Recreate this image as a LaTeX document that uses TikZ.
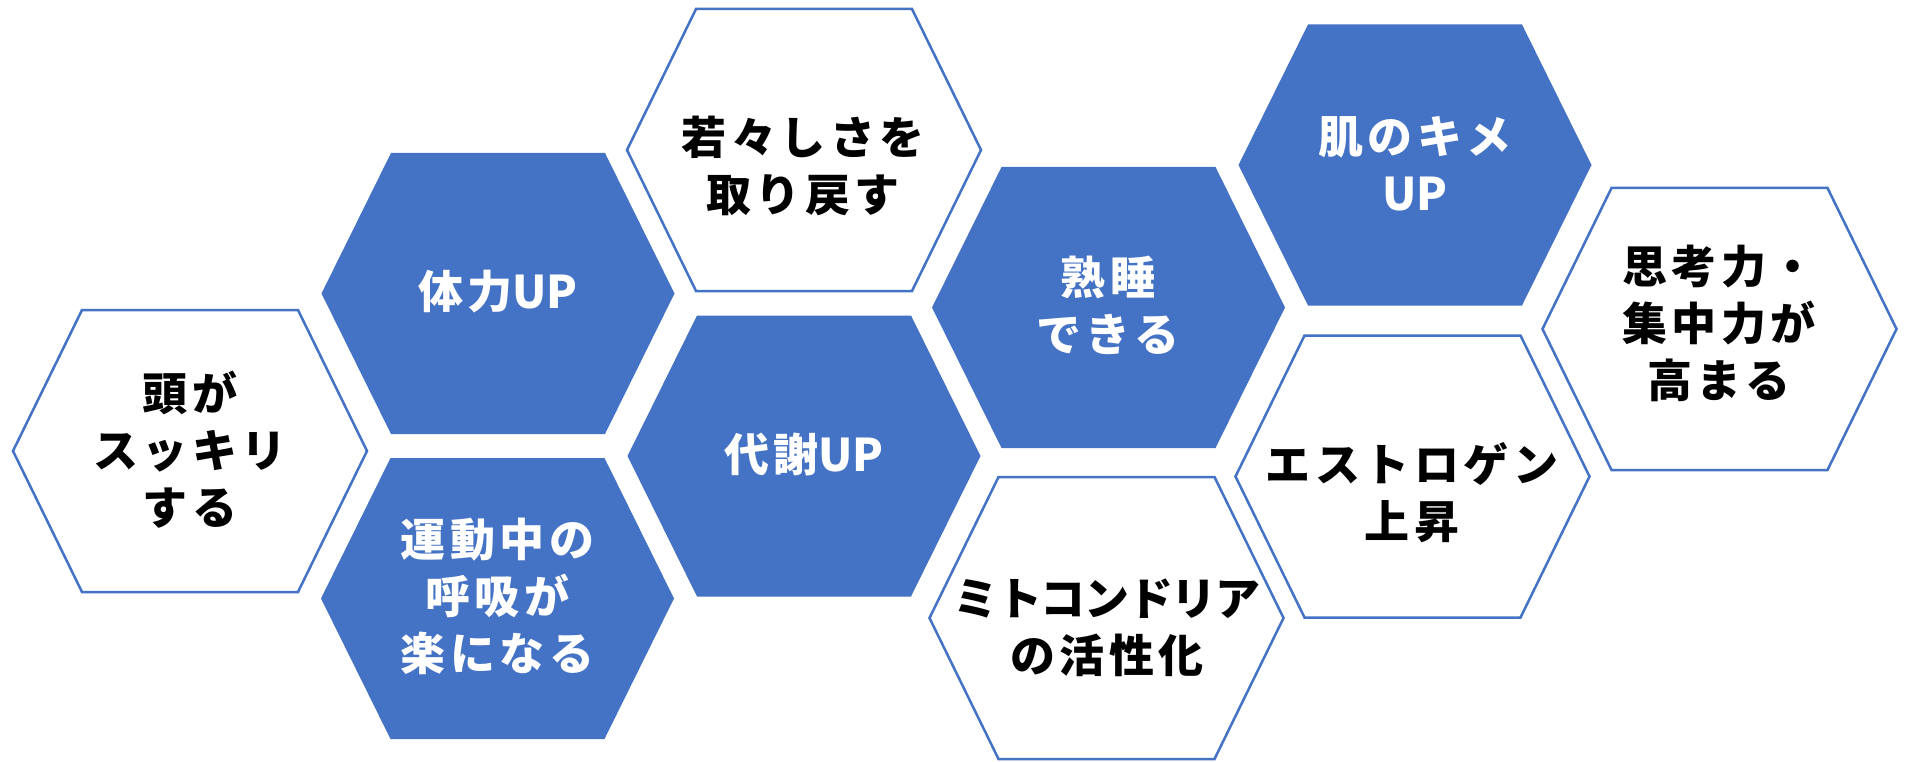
\documentclass[tikz,border=0pt]{standalone}
\usepackage{fontspec}
\newfontfamily\jp[LetterSpace=10]{Noto Sans CJK JP}
\definecolor{hexblue}{HTML}{4472C4}
\newcommand\jstrut{\rule[-0.12em]{0pt}{1em}}
\newcommand\tight[1]{{\addfontfeature{LetterSpace=0}#1}}
\newcommand\squeezed[1]{{\addfontfeature{LetterSpace=-3}#1}}
\tikzset{
  hexlabel/.style={font=\jp\bfseries\fontsize{45}{57}\selectfont, align=center, inner sep=0pt},
  onblue/.style={hexlabel, text=white},
  onwhite/.style={hexlabel, text=black},
  bluehex/.pic={\fill[hexblue] (-176.5,0)--(-107,-140.5)--(107,-140.5)--(176.5,0)--(107,140.5)--(-107,140.5)--cycle;},
  whitehex/.pic={\draw[hexblue, line width=2.5pt, fill=white] (-177,0)--(-108,-141)--(108,-141)--(177,0)--(108,141)--(-108,141)--cycle;}
}
\begin{document}
\begin{tikzpicture}[x=1pt, y=-1pt]
\useasboundingbox (0,0) rectangle (1911,762);
\fill[white] (0,0) rectangle (1911,762);
% hexagons
\pic at (190,451) {whitehex};
\pic at (498,293.5) {bluehex};
\pic at (497.5,598.5) {bluehex};
\pic at (804,150) {whitehex};
\pic at (804,456) {bluehex};
\pic at (1108.5,307.5) {bluehex};
\pic at (1106.5,618) {whitehex};
\pic at (1415,165) {bluehex};
\pic at (1412.5,476.5) {whitehex};
\pic at (1719.5,329) {whitehex};
% labels
\node[onwhite] (t1) at (190,450) {\jstrut 頭が\\\jstrut スッキリ\\\jstrut する};
\node[onblue] (t2) at (498,291) {\jstrut 体力\tight{UP}};
\node[onblue] (t3) at (497.5,596) {\jstrut 運動中の\\\jstrut 呼吸が\\\jstrut 楽になる};
\node[onwhite] (t4) at (803,166) {\jstrut 若々しさを\\\jstrut 取り戻す};
\node[onblue] (t5) at (804,454) {\jstrut 代謝\tight{UP}};
\node[onblue] (t6) at (1108,306) {\jstrut 熟睡\\\jstrut できる};
\node[onwhite] (t7) at (1107,627) {\jstrut \squeezed{ミトコンドリア}\\\jstrut の活性化};
\node[onblue] (t8) at (1415,165) {\jstrut 肌のキメ\\\jstrut \tight{UP}};
\node[onwhite] (t9) at (1412,493) {\jstrut エストロゲン\\\jstrut 上昇};
\node[onwhite] (t10) at (1719,323) {\jstrut 思考力・\\\jstrut 集中力が\\\jstrut 高まる};
\end{tikzpicture}
\end{document}
